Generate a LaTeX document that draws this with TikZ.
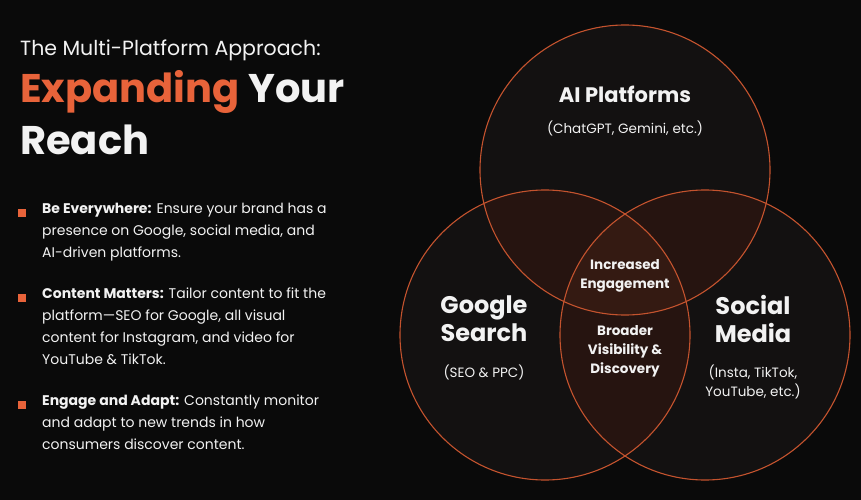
\documentclass[tikz,border=0pt]{standalone}
\usepackage{fontspec}
\setmainfont{Poppins}
\definecolor{bgdark}{HTML}{0A0A0A}
\definecolor{circfill}{HTML}{131111}
\definecolor{pairfill}{HTML}{261410}
\definecolor{midfill}{HTML}{341A12}
\definecolor{accent}{HTML}{E8633A}
\definecolor{ringline}{HTML}{C4532E}
\definecolor{softwhite}{HTML}{F2F2F2}
\tikzset{
  ring/.style={draw=ringline, line width=1.1pt},
  headtext/.style={text=softwhite, font=\fontsize{21}{24}\selectfont\bfseries, align=center},
  subtext/.style={text=softwhite, font=\fontsize{13.5}{19}\selectfont, align=center},
  midtext/.style={text=softwhite, font=\fontsize{13.5}{19}\selectfont\bfseries, align=center},
  bulletbox/.style={fill=accent, minimum size=8pt, inner sep=0pt},
  bullettext/.style={text=softwhite, anchor=north west, align=left,
    font=\fontsize{14}{22}\selectfont, inner sep=0pt}
}
\begin{document}
\begin{tikzpicture}[x=1pt,y=-1pt]
  \fill[bgdark] (0,0) rectangle (861,500);
  \useasboundingbox (0,0) rectangle (861,500);
  % circles
  \def\rr{145}
  \coordinate (ctop) at (625,170);
  \coordinate (cleft) at (545,335);
  \coordinate (cright) at (705,335);
  \fill[circfill] (ctop) circle (\rr) (cleft) circle (\rr) (cright) circle (\rr);
  \begin{scope}
    \clip (ctop) circle (\rr);
    \fill[pairfill] (cleft) circle (\rr) (cright) circle (\rr);
  \end{scope}
  \begin{scope}
    \clip (cleft) circle (\rr);
    \fill[pairfill] (cright) circle (\rr);
  \end{scope}
  \begin{scope}
    \clip (ctop) circle (\rr);
    \clip (cleft) circle (\rr);
    \fill[midfill] (cright) circle (\rr);
  \end{scope}
  \draw[ring] (ctop) circle (\rr) (cleft) circle (\rr) (cright) circle (\rr);
  % circle labels
  \node[headtext] (aihead) at (625,94) {AI Platforms};
  \node[subtext] (aisub) at (625,128) {(ChatGPT, Gemini, etc.)};
  \node[headtext, font=\fontsize{24}{28}\selectfont\bfseries] (gohead) at (484,319) {Google\\Search};
  \node[subtext] (gosub) at (484,372) {(SEO \& PPC)};
  \node[headtext, font=\fontsize{24}{28}\selectfont\bfseries] (sohead) at (753,319) {Social\\Media};
  \node[subtext] (sosub) at (753,382) {(Insta, TikTok,\\YouTube, etc.)};
  \node[midtext] (engage) at (625,276) {Increased\\Engagement};
  \node[midtext] (broad) at (625,351) {Broader\\Visibility \&\\Discovery};
  % title
  \node[anchor=west, text=softwhite, font=\fontsize{20.5}{24}\selectfont, inner sep=0pt] (title) at (20,50) {The Multi-Platform Approach:};
  \node[anchor=west, font=\fontsize{40}{46}\selectfont\bfseries, inner sep=0pt] (expand) at (20,92) {\textcolor{accent}{Expanding} \textcolor{softwhite}{Your}};
  \node[anchor=west, text=softwhite, font=\fontsize{40}{46}\selectfont\bfseries, inner sep=0pt] (reach) at (20,140) {Reach};
  % bullets
  \foreach \yy/\tx [count=\i] in {
    203/{\textbf{Be Everywhere:} Ensure your brand has a\\presence on Google, social media, and\\AI-driven platforms.},
    288/{\textbf{Content Matters:} Tailor content to fit the\\platform—SEO for Google, all visual\\content for Instagram, and video for\\YouTube \& TikTok.},
    395/{\textbf{Engage and Adapt:} Constantly monitor\\and adapt to new trends in how\\consumers discover content.}} {
    \node[bulletbox] (box\i) at (22,\yy+10) {};
    \node[bullettext] (item\i) at (42,\yy) {\tx};
  }
\end{tikzpicture}
\end{document}
